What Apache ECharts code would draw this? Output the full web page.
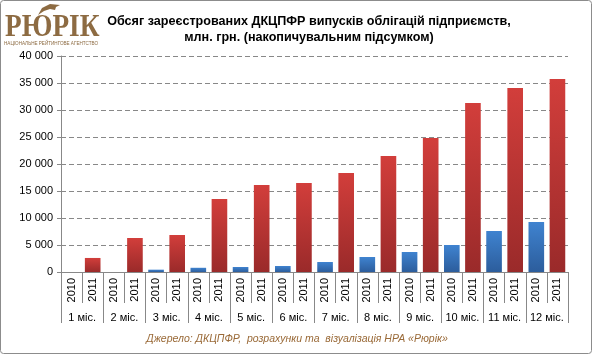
<!DOCTYPE html>
<html><head><meta charset="utf-8">
<script src="https://cdn.jsdelivr.net/npm/echarts@6/dist/echarts.min.js"></script>
<style>html,body{margin:0;padding:0;background:#fff}#c{width:594px;height:356px}</style>
</head><body><div id="c"></div>
<script>
const months = ['1 міс.','2 міс.','3 міс.','4 міс.','5 міс.','6 міс.','7 міс.','8 міс.','9 міс.','10 міс.','11 міс.','12 міс.'];
const years = ['2010','2011'];
const v2010 = [0, 0, 430, 780, 930, 1110, 1850, 2780, 3700, 5000, 7590, 9260];
const v2011 = [2600, 6300, 6850, 13520, 16110, 16480, 18330, 21480, 24810, 31300, 34070, 35740];
const yTicks = [0, 5000, 10000, 15000, 20000, 25000, 30000, 35000, 40000];

const cats = [];
const s2010 = [], s2011 = [];
months.forEach((m, i) => {
  cats.push(m + '|' + years[0]); cats.push(m + '|' + years[1]);
  s2010.push(v2010[i] > 0 ? v2010[i] : null); s2010.push(null);
  s2011.push(null); s2011.push(v2011[i]);
});

const font = 'Liberation Sans, Arial, sans-serif';
const grad = (a, b) => new echarts.graphic.LinearGradient(0, 0, 0, 1, [{offset: 0, color: a}, {offset: 1, color: b}]);
const chart = echarts.init(document.getElementById('c'), null, {renderer: 'canvas'});
chart.setOption({
  animation: false,
  backgroundColor: '#fff',
  grid: {left: 61, right: 26, top: 56, bottom: 84},
  graphic: [
    {type: 'rect', shape: {x: 0.5, y: 0.5, width: 591, height: 353, r: 3}, style: {fill: 'none', stroke: '#8c8c8c', lineWidth: 1}, silent: true},
    {type: 'polygon', shape: {points: [[38, 15], [42, 8], [50, 4], [60, 5], [56, 7], [55, 10], [50, 9], [44, 11]]}, style: {fill: '#8d6b42'}, silent: true},
    {type: 'text', x: 5, y: 12, scaleX: 0.88, style: {text: 'РЮРІК', font: 'bold 31px "Liberation Serif", "DejaVu Serif", serif', fill: '#8d6b42'}},
    {type: 'text', x: 4, y: 41, style: {text: 'НАЦІОНАЛЬНЕ РЕЙТИНГОВЕ АГЕНТСТВО', font: '4.6px "Liberation Sans", Arial, sans-serif', fill: '#8d6b42'}},
    {type: 'text', x: 309, y: 14, style: {text: 'Обсяг зареєстрованих ДКЦПФР випусків облігацій підприємств,\nмлн. грн. (накопичувальним підсумком)', font: 'bold 12.6px "Liberation Sans", Arial, sans-serif', fill: '#000', align: 'center', lineHeight: 16}},
    {type: 'text', x: 297, y: 334, style: {text: 'Джерело: ДКЦПФР,  розрахунки та  візуалізація НРА «Рюрік»', font: 'italic 10.5px "Liberation Sans", Arial, sans-serif', fill: '#9a6a38', align: 'center'}}
  ],
  xAxis: [
    {
      type: 'category', data: cats, position: 'bottom',
      axisLine: {show: true, lineStyle: {color: '#888'}},
      axisTick: {show: true, length: 31, lineStyle: {color: '#888'}},
      axisLabel: {rotate: 90, margin: 6, fontFamily: font, fontSize: 11, color: '#000', interval: 0,
        formatter: v => v.split('|')[1]}
    },
    {
      type: 'category', data: months, position: 'bottom',
      axisLine: {show: false},
      axisTick: {show: true, length: 51, lineStyle: {color: '#888'}},
      axisLabel: {margin: 40, fontFamily: font, fontSize: 11, color: '#000', interval: 0}
    }
  ],
  yAxis: {
    type: 'value', min: 0, max: 40000, interval: 5000,
    axisLine: {show: true, lineStyle: {color: '#888'}},
    axisTick: {show: true, length: 4, lineStyle: {color: '#888'}},
    splitLine: {lineStyle: {color: '#888', type: [5, 3]}},
    axisLabel: {fontFamily: font, fontSize: 11, color: '#000', margin: 8,
      formatter: v => yTicks.includes(v) ? (v >= 1000 ? Math.floor(v / 1000) + ' ' + String(v % 1000).padStart(3, '0') : String(v)) : ''}
  },
  series: [
    {name: '2010', type: 'bar', xAxisIndex: 0, data: s2010, barGap: '-100%', barCategoryGap: '26%',
      itemStyle: {color: grad('#3f83d0', '#2c5d9c')}},
    {name: '2011', type: 'bar', xAxisIndex: 0, data: s2011, barGap: '-100%', barCategoryGap: '26%',
      itemStyle: {color: grad('#d23e3b', '#9a2a2a')}}
  ]
});
</script></body></html>
